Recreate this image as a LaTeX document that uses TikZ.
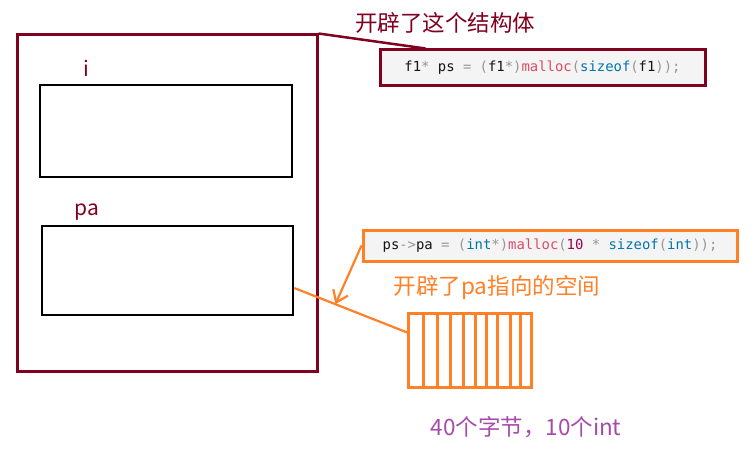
\documentclass[tikz,border=0pt]{standalone}
\usepackage{fontspec}
\setmainfont{Noto Sans CJK SC}
\setmonofont{DejaVu Sans Mono}
\usepackage{xcolor}
\usetikzlibrary{arrows.meta, positioning, calc}
\definecolor{wine}{RGB}{128,0,32}
\definecolor{tangerine}{RGB}{255,128,39}
\definecolor{plum}{RGB}{165,75,170}
\definecolor{codebg}{RGB}{244,244,244}
\definecolor{tokgray}{RGB}{150,150,150}
\definecolor{tokblue}{RGB}{0,119,170}
\definecolor{tokpink}{RGB}{221,74,104}
\definecolor{toknum}{RGB}{153,0,85}
\definecolor{tokdark}{RGB}{20,20,20}

\begin{document}
\begin{tikzpicture}[
  x=1pt, y=-1pt,
  structbox/.style={draw=wine, line width=3pt, inner sep=0pt},
  field/.style={draw=black, line width=2.5pt, inner sep=0pt},
  codebox/.style={draw=#1, line width=3pt, fill=codebg, inner sep=0pt,
    font=\ttfamily\fontsize{13.9}{16}\selectfont, text=tokdark},
  label/.style={font=\fontsize{21}{25}\selectfont, inner sep=0pt},
  cn/.style={font=\fontsize{22.5}{26}\selectfont, inner sep=0pt},
  link/.style={tangerine, line width=2.2pt},
]
\useasboundingbox (0,0) rectangle (754,457);

%% struct f1 with its two fields
\node[structbox, minimum width=300pt, minimum height=336pt] (ps) at (167,203) {};
\node[field, minimum width=252pt, minimum height=92pt] (fi) at (166,131) {};
\node[field, minimum width=251pt, minimum height=89pt] (fpa) at (167.5,270.5) {};
\node[label, text=wine] (li) at (86,68) {i};
\node[label, text=wine] (lpa) at (87,212) {pa};

%% first malloc
\node[codebox=wine, minimum width=325pt, minimum height=36pt] (code1) at (542.5,68)
  {f1\textcolor{tokgray}{*} ps \textcolor{tokgray}{= (}f1\textcolor{tokgray}{*)}\textcolor{tokpink}{malloc}\textcolor{tokgray}{(}\textcolor{tokblue}{sizeof}\textcolor{tokgray}{(}f1\textcolor{tokgray}{));}};
\node[cn, text=wine] (t1) at (445,23) {开辟了这个结构体};
\draw[wine, line width=2.5pt] (ps.north east) -- ([xshift=47pt]code1.north west);

%% second malloc
\node[codebox=tangerine, minimum width=374pt, minimum height=31pt] (code2) at (550,245.5)
  {ps\textcolor{tokgray}{->}pa \textcolor{tokgray}{= (}\textcolor{tokblue}{int}\textcolor{tokgray}{*)}\textcolor{tokpink}{malloc}\textcolor{tokgray}{(}\textcolor{toknum}{10} \textcolor{tokgray}{*} \textcolor{tokblue}{sizeof}\textcolor{tokgray}{(}\textcolor{tokblue}{int}\textcolor{tokgray}{));}};
\node[cn, text=tangerine] (t2) at (497,288) {开辟了pa指向的空间};

%% the 10 ints
\node[draw=tangerine, line width=3pt, minimum width=123pt, minimum height=74pt, inner sep=0pt] (arr) at (469.5,350) {};
\foreach \x in {17,31,44,57,69,80,91,104,114}
  \draw[link, line width=2.5pt] ([xshift=\x pt]arr.north west) -- ([xshift=\x pt]arr.south west);
\node[cn, text=plum] (t3) at (526,427) {40个字节，10个int};

%% pointer pa -> array
\coordinate (paout) at ([yshift=-17.5pt]fpa.east);
\coordinate (arrin) at ([xshift=2pt,yshift=17pt]arr.west);
\coordinate (hit) at ($(paout)!0.36!(arrin)$);
\draw[link] (paout) -- (arrin);
\draw[link, -{Straight Barb[length=11pt, width=16pt]}] (code2.west) -- (hit);

\end{tikzpicture}
\end{document}
